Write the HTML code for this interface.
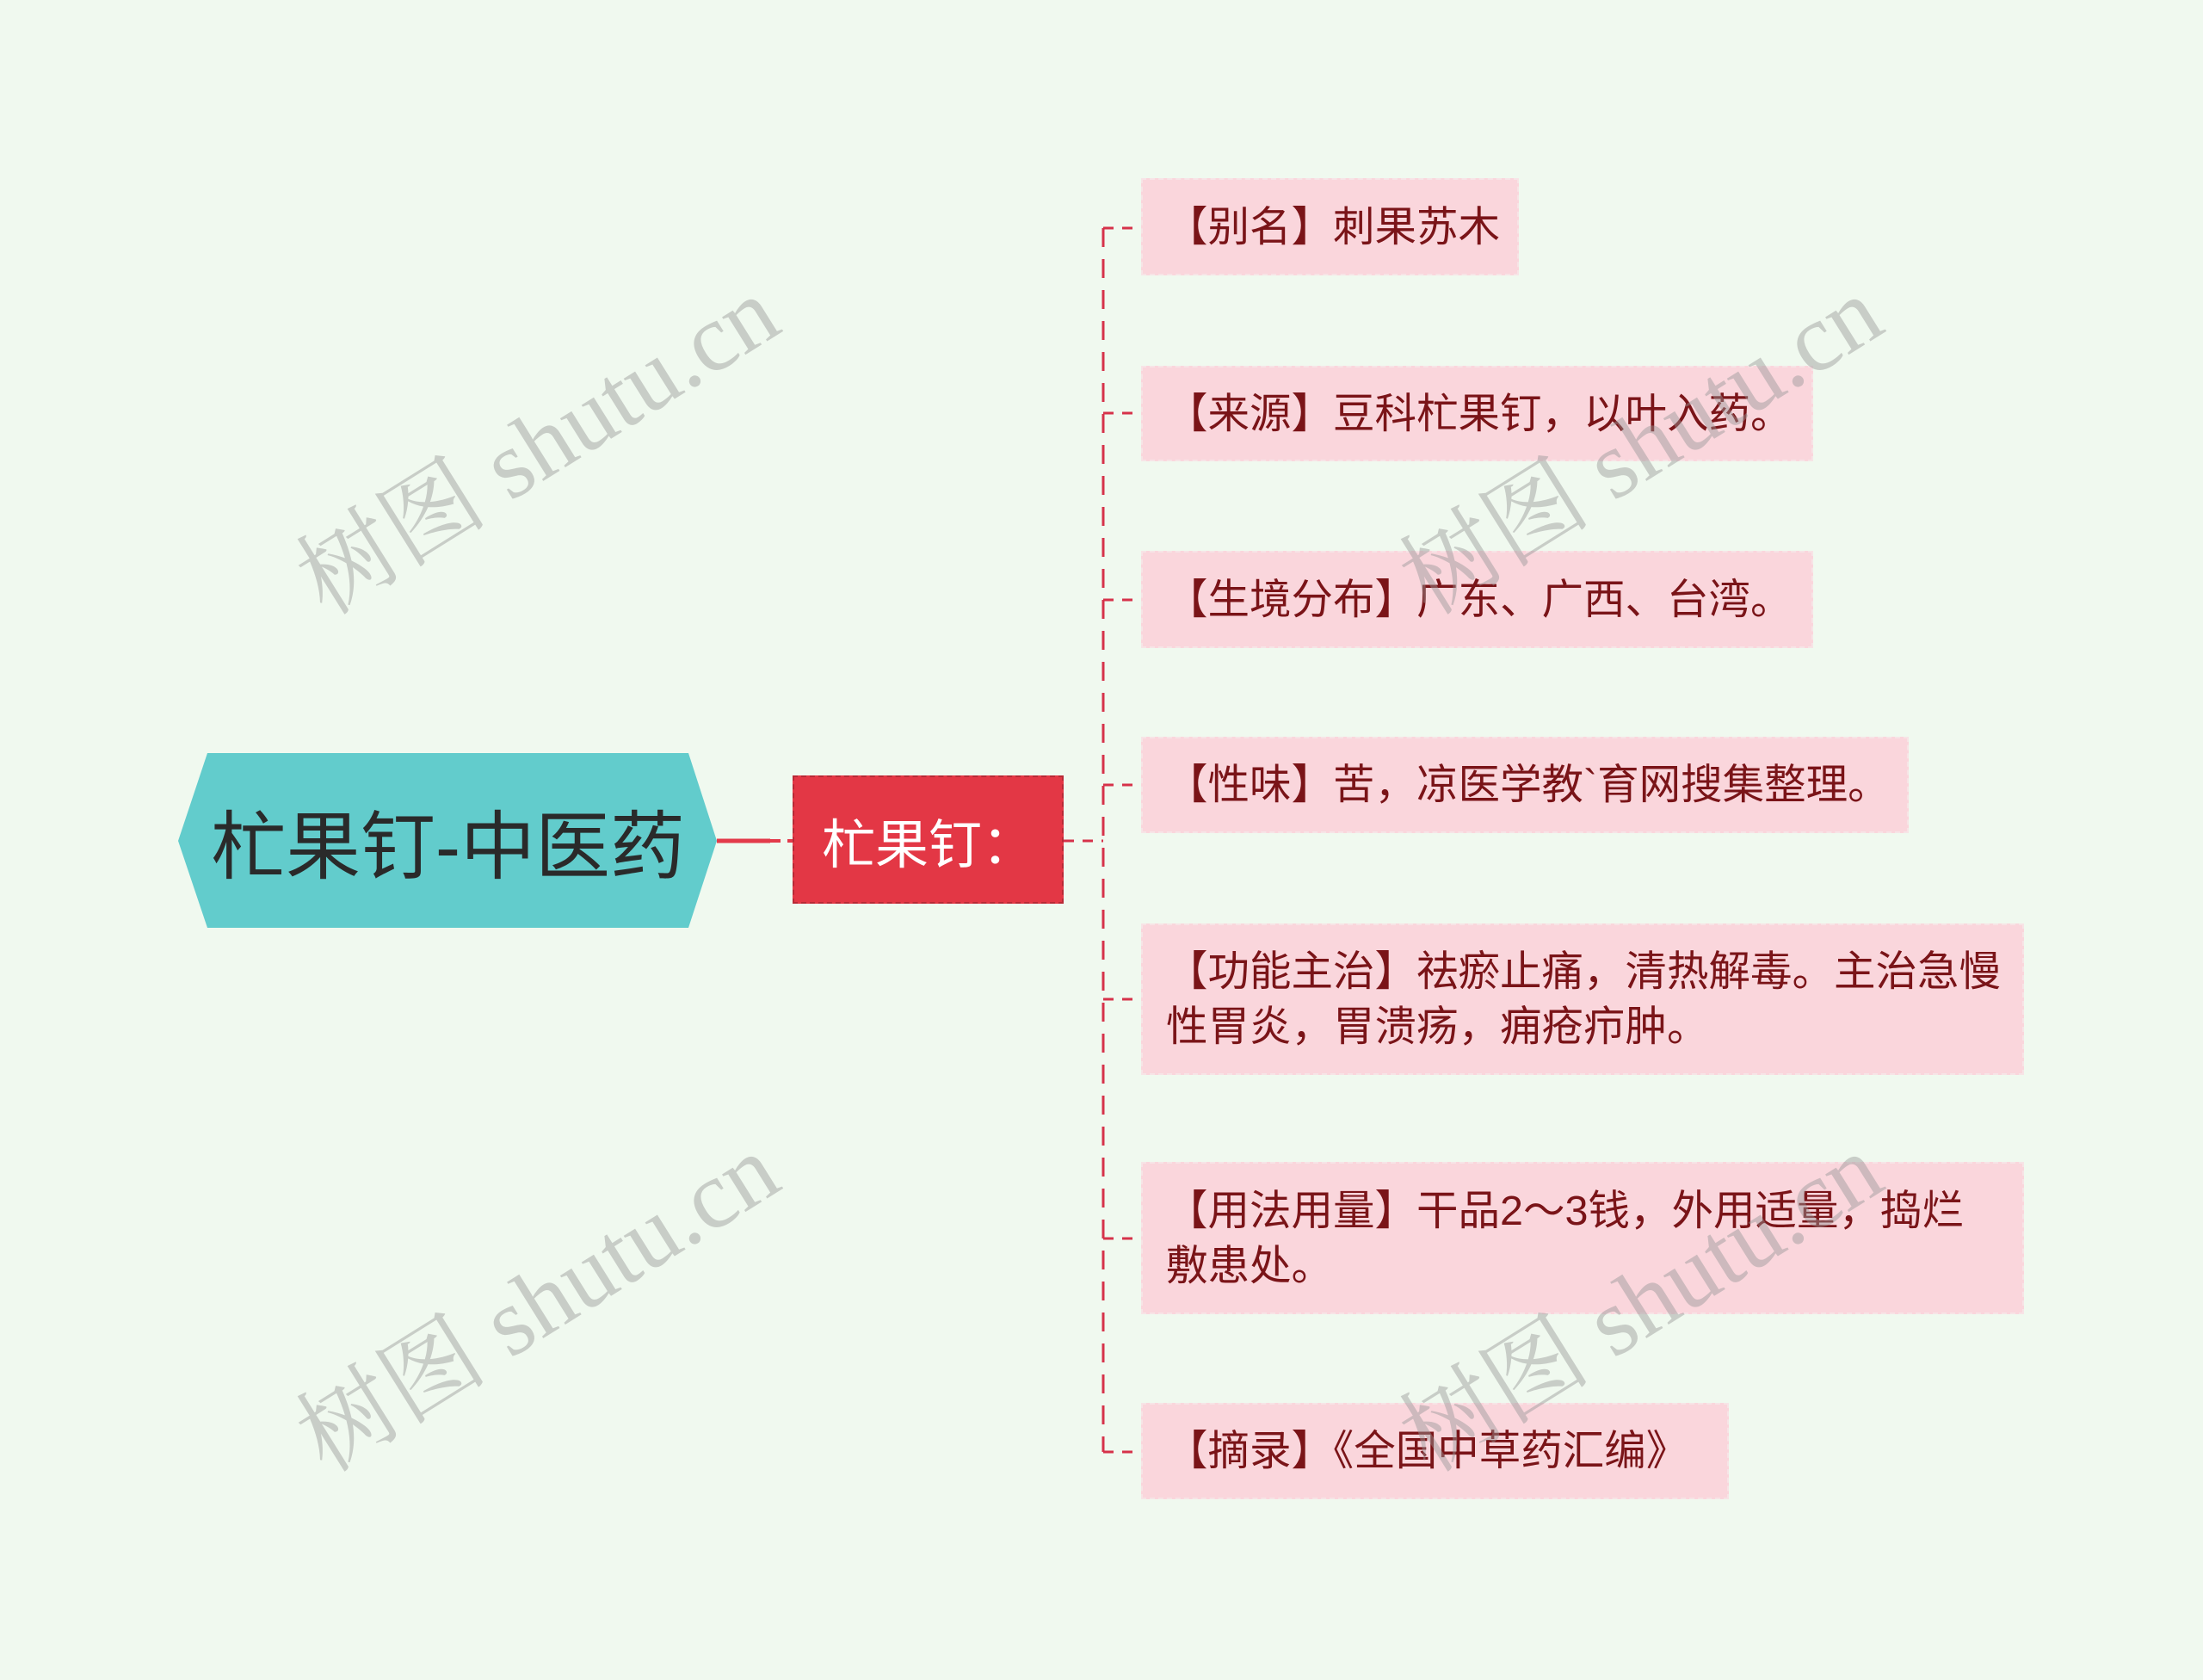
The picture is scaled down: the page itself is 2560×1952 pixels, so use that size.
<!DOCTYPE html>
<html><head><meta charset="utf-8"><style>
html,body{margin:0;padding:0}
body{width:2560px;height:1952px;background:#f0f9ef;position:relative;overflow:hidden;font-family:"Liberation Sans","Noto Sans CJK SC",sans-serif}
.box{position:absolute;left:1326px;background:#fad6dc;border:2px dashed #f7e4e6;box-sizing:border-box;color:#7a1418;font-size:48.5px;line-height:64px;padding:0 10px 0 27px;display:flex;align-items:center}
.wm{position:absolute;font-family:"Liberation Serif","Noto Serif CJK SC",serif;font-size:112px;color:rgba(150,150,150,0.45);white-space:nowrap;transform:translate(-50%,-50%) rotate(-32deg)}
</style></head><body>
<svg width="2560" height="1952" style="position:absolute;left:0;top:0">
<polygon points="207,977 241,875 800,875 833,977 800,1078 241,1078" fill="#62cccc"/>
<line x1="833" y1="977" x2="895" y2="977" stroke="#e33a4a" stroke-width="5"/>
<line x1="895" y1="977" x2="921" y2="977" stroke="#e33a4a" stroke-width="4" stroke-dasharray="12,8"/>
<line x1="1236" y1="977" x2="1282" y2="977" stroke="#d6324a" stroke-width="3" stroke-dasharray="12,10"/>
<line x1="1282" y1="265" x2="1282" y2="1687" stroke="#d6324a" stroke-width="3" stroke-dasharray="22,14"/>
<g stroke="#d6324a" stroke-width="3" stroke-dasharray="12,10">
<line x1="1282" y1="265" x2="1326" y2="265"/>
<line x1="1282" y1="480" x2="1326" y2="480"/>
<line x1="1282" y1="697" x2="1326" y2="697"/>
<line x1="1282" y1="912" x2="1326" y2="912"/>
<line x1="1282" y1="1161" x2="1326" y2="1161"/>
<line x1="1282" y1="1439" x2="1326" y2="1439"/>
<line x1="1282" y1="1687" x2="1326" y2="1687"/>
</g>
</svg>
<div style="position:absolute;left:231px;top:875px;width:579px;height:203px;display:flex;align-items:center;justify-content:center;font-size:87px;color:#2a2a2a">杧果钉-中医药</div>
<div style="position:absolute;left:921px;top:901px;width:315px;height:149px;background:#e33745;border:2px dashed #b82a36;box-sizing:border-box;display:flex;align-items:center;padding-left:32px;font-size:62px;color:#fff">杧果钉：</div>
<div class="box" style="top:207px;width:439px;height:113px">【别名】刺果苏木</div>
<div class="box" style="top:425px;width:781px;height:111px">【来源】豆科杧果钉，以叶入药。</div>
<div class="box" style="top:640px;width:781px;height:113px">【生境分布】广东、广西、台湾。</div>
<div class="box" style="top:856px;width:892px;height:112px">【性味】苦，凉医学教`育网搜集整理。</div>
<div class="box" style="top:1073px;width:1026px;height:176px">【功能主治】祛瘀止痛，清热解毒。主治急慢性胃炎，胃溃疡，痈疮疖肿。</div>
<div class="box" style="top:1350px;width:1026px;height:177px"><div>【用法用量】干品2～3钱，外用适量，捣烂<br>敷患处。</div></div>
<div class="box" style="top:1630px;width:683px;height:112px">【摘录】《全国中草药汇编》</div>
<div class="wm" style="left:620px;top:510px">树图 shutu.cn</div>
<div class="wm" style="left:1902px;top:510px">树图 shutu.cn</div>
<div class="wm" style="left:620px;top:1506px">树图 shutu.cn</div>
<div class="wm" style="left:1902px;top:1506px">树图 shutu.cn</div>
</body></html>
